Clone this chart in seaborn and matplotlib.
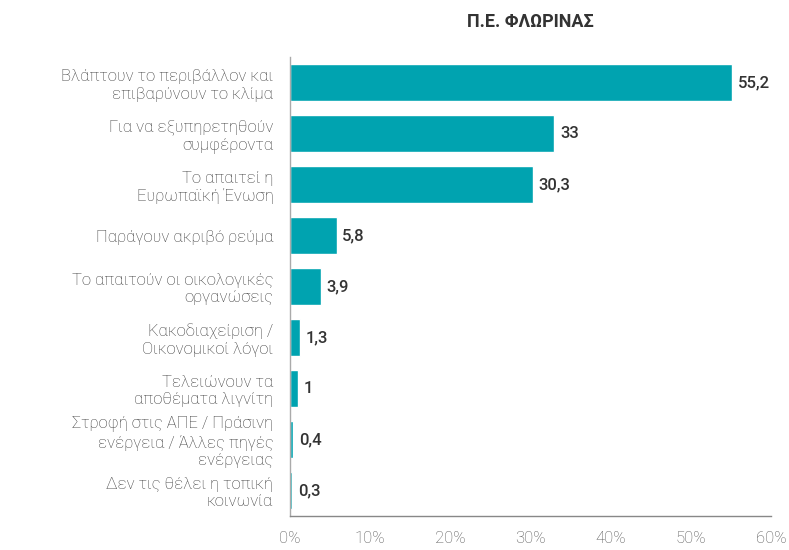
import matplotlib
matplotlib.use("Agg")
import matplotlib.pyplot as plt
import seaborn as sns
import pandas as pd

# data
categories = [
    "Βλάπτουν το περιβάλλον και\nεπιβαρύνουν το κλίμα",
    "Για να εξυπηρετηθούν\nσυμφέροντα",
    "Το απαιτεί η\nΕυρωπαϊκή Ένωση",
    "Παράγουν ακριβό ρεύμα",
    "Το απαιτούν οι οικολογικές\nοργανώσεις",
    "Κακοδιαχείριση /\nΟικονομικοί λόγοι",
    "Τελειώνουν τα\nαποθέματα λιγνίτη",
    "Στροφή στις ΑΠΕ / Πράσινη\nενέργεια / Άλλες πηγές\nενέργειας",
    "Δεν τις θέλει η τοπική\nκοινωνία",
]
values = [55.2, 33, 30.3, 5.8, 3.9, 1.3, 1, 0.4, 0.3]
value_labels = ["55,2", "33", "30,3", "5,8", "3,9", "1,3", "1", "0,4", "0,3"]
xticks = [0, 10, 20, 30, 40, 50, 60]

df = pd.DataFrame({"reason": categories, "pct": values})

sns.set_style("white")
plt.rcParams["font.family"] = ["Roboto", "DejaVu Sans"]

fig = plt.figure(figsize=(7.89, 5.5), dpi=100)
ax = fig.add_axes([0.3676, 0.062, 0.6094, 0.834])

bar_color = "#00A3B0"
sns.barplot(data=df, x="pct", y="reason", color=bar_color, width=0.72,
            saturation=1, ax=ax)

for i, (v, lab) in enumerate(zip(values, value_labels)):
    ax.annotate(lab, xy=(v, i), xytext=(4, 0), textcoords="offset points",
                va="center", ha="left", fontsize=12, fontweight="medium",
                color="#333333")

ax.set_xlim(0, 60)
ax.set_xticks(xticks)
ax.set_xticklabels([f"{t}%" for t in xticks])
ax.set_xlabel("")
ax.set_ylabel("")

for s in ["top", "right"]:
    ax.spines[s].set_visible(False)
ax.spines["left"].set_color("#AAAAAA")
ax.spines["bottom"].set_color("#888888")
ax.spines["left"].set_linewidth(1)
ax.spines["bottom"].set_linewidth(1)

ax.tick_params(axis="x", direction="in", length=5, color="#888888",
               labelcolor="#555555", labelsize=12, pad=11)
ax.tick_params(axis="y", length=0, labelcolor="#3a3a3a", labelsize=12, pad=12)
for t in ax.get_yticklabels():
    t.set_multialignment("right")
    t.set_fontweight("light")
for t in ax.get_xticklabels():
    t.set_fontweight("light")

ax.set_title("Π.Ε. ΦΛΩΡΙΝΑΣ", fontsize=13, fontweight="bold",
             color="#333333", pad=22)

fig.savefig("out.png", dpi=100)
